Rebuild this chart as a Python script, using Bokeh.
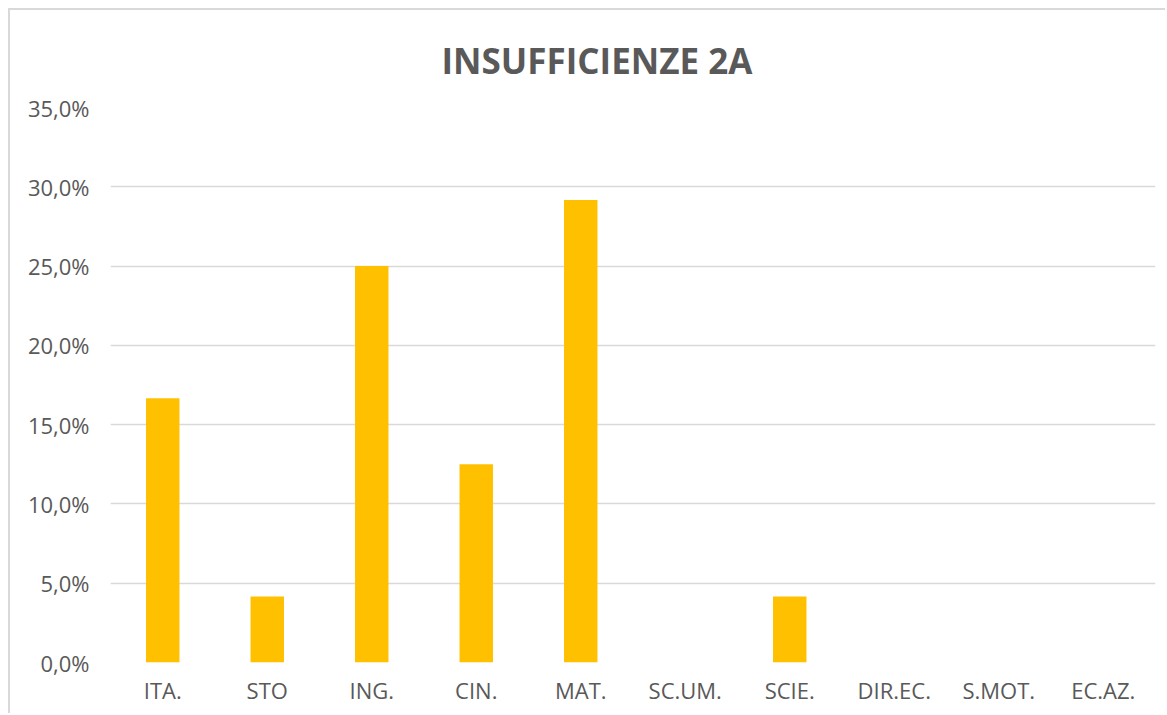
from bokeh.plotting import figure
from bokeh.models import FixedTicker, Range1d, Title
from bokeh.embed import file_html
from bokeh.resources import INLINE

categories = ["ITA.", "STO", "ING.", "CIN.", "MAT.", "SC.UM.", "SCIE.", "DIR.EC.", "S.MOT.", "EC.AZ."]
values = [0.1667, 0.0417, 0.25, 0.125, 0.2917, 0.0, 0.0417, 0.0, 0.0, 0.0]
y_ticks = [0.0, 0.05, 0.10, 0.15, 0.20, 0.25, 0.30, 0.35]
y_tick_labels = ["0,0%", "5,0%", "10,0%", "15,0%", "20,0%", "25,0%", "30,0%", "35,0%"]
title_text = "INSUFFICIENZE 2A"

FONT = "Open Sans"
TXT = "#595959"

p = figure(x_range=categories, width=1157, height=705, output_backend="svg",
           toolbar_location=None, min_border_left=100, min_border_right=12,
           min_border_top=97, min_border_bottom=53)
p.y_range = Range1d(0, 0.35)
p.vbar(x=categories, top=values, width=0.32, fill_color="#FFC000", line_color=None)

t = Title(text=title_text, align="left", offset=331, standoff=48, text_font=FONT,
          text_font_size="35px", text_font_style="bold", text_color=TXT)
p.title = t

p.outline_line_color = None
p.xgrid.grid_line_color = None
p.ygrid.grid_line_color = "#d9d9d9"
p.ygrid.grid_line_width = 1.5
p.yaxis.ticker = FixedTicker(ticks=y_ticks)
p.yaxis.major_label_overrides = {t_: l for t_, l in zip(y_ticks, y_tick_labels)}
for ax in (p.xaxis[0], p.yaxis[0]):
    ax.axis_line_color = None
    ax.major_tick_line_color = None
    ax.minor_tick_line_color = None
    ax.major_label_text_font = FONT
    ax.major_label_text_font_size = "22px"
    ax.major_label_text_color = TXT
p.yaxis.major_label_standoff = 15
p.xaxis.major_label_standoff = 6
p.styles = {"margin-left": "8px", "margin-top": "8px",
            "border-left": "2px solid #d9d9d9", "border-top": "2px solid #d9d9d9"}

open("out.html", "w").write(file_html(p, INLINE))
